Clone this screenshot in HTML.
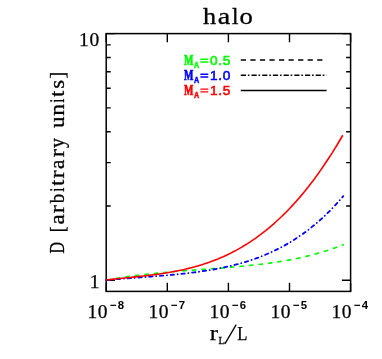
<!DOCTYPE html>
<html><head><meta charset="utf-8"><title>halo</title>
<style>
html,body{margin:0;padding:0;background:#fff;}
body{width:382px;height:359px;overflow:hidden;font-family:"Liberation Serif",serif;}
svg{display:block;}

</style></head>
<body>
<svg style="will-change:transform" width="382" height="359" viewBox="0 0 382 359">
<rect x="0" y="0" width="382" height="359" fill="#ffffff"/>
<rect x="106.2" y="33.6" width="244.4" height="257.8" fill="none" stroke="#000" stroke-width="1.5"/>
<path d="M106.2,291.4 v-8.7 M106.2,33.6 v8.7 M167.3,291.4 v-8.7 M167.3,33.6 v8.7 M228.4,291.4 v-8.7 M228.4,33.6 v8.7 M289.5,291.4 v-8.7 M289.5,33.6 v8.7 M350.6,291.4 v-8.7 M350.6,33.6 v8.7 M106.2,280.3 h8.7 M350.6,280.3 h-8.7 M106.2,33.6 h8.7 M350.6,33.6 h-8.7 M106.2,206.0 h4.5 M350.6,206.0 h-4.5 M106.2,162.6 h4.5 M350.6,162.6 h-4.5 M106.2,131.8 h4.5 M350.6,131.8 h-4.5 M106.2,107.9 h4.5 M350.6,107.9 h-4.5 M106.2,88.3 h4.5 M350.6,88.3 h-4.5 M106.2,71.8 h4.5 M350.6,71.8 h-4.5 M106.2,57.5 h4.5 M350.6,57.5 h-4.5 M106.2,44.9 h4.5 M350.6,44.9 h-4.5" fill="none" stroke="#000" stroke-width="1.4"/>
<path d="M106.2,280.00 L108.9,279.54 L111.5,279.09 L114.2,278.66 L116.9,278.24 L119.5,277.83 L122.2,277.44 L124.8,277.05 L127.5,276.68 L130.2,276.31 L132.8,275.96 L135.5,275.62 L138.2,275.29 L140.8,274.97 L143.5,274.65 L146.2,274.35 L148.8,274.05 L151.5,273.77 L154.2,273.49 L156.8,273.22 L159.5,272.96 L162.1,272.70 L164.8,272.45 L167.5,272.21 L170.1,271.98 L172.8,271.75 L175.5,271.52 L178.1,271.30 L180.8,271.08 L183.5,270.87 L186.1,270.66 L188.8,270.46 L191.4,270.25 L194.1,270.05 L196.8,269.86 L199.4,269.66 L202.1,269.46 L204.8,269.27 L207.4,269.07 L210.1,268.87 L212.8,268.67 L215.4,268.47 L218.1,268.27 L220.8,268.07 L223.4,267.86 L226.1,267.65 L228.7,267.43 L231.4,267.21 L234.1,266.98 L236.7,266.75 L239.4,266.51 L242.1,266.26 L244.7,266.00 L247.4,265.74 L250.1,265.47 L252.7,265.18 L255.4,264.89 L258.1,264.59 L260.7,264.27 L263.4,263.94 L266.0,263.60 L268.7,263.24 L271.4,262.87 L274.0,262.49 L276.7,262.09 L279.4,261.67 L282.0,261.23 L284.7,260.78 L287.4,260.31 L290.0,259.82 L292.7,259.31 L295.3,258.77 L298.0,258.22 L300.7,257.64 L303.3,257.04 L306.0,256.42 L308.7,255.77 L311.3,255.09 L314.0,254.39 L316.7,253.66 L319.3,252.90 L322.0,252.12 L324.7,251.30 L327.3,250.45 L330.0,249.58 L332.6,248.66 L335.3,247.72 L338.0,246.74 L340.6,245.73 L343.3,244.67" fill="none" stroke="#00ff00" stroke-width="1.7" stroke-linecap="round" stroke-dasharray="3.3 6.25" stroke-dashoffset="8.7"/>
<path d="M106.2,280.10 L108.9,279.87 L111.5,279.65 L114.2,279.43 L116.9,279.21 L119.5,279.00 L122.2,278.79 L124.8,278.58 L127.5,278.37 L130.2,278.17 L132.8,277.97 L135.5,277.77 L138.2,277.56 L140.8,277.36 L143.5,277.16 L146.2,276.96 L148.8,276.75 L151.5,276.55 L154.2,276.34 L156.8,276.13 L159.5,275.91 L162.1,275.69 L164.8,275.46 L167.5,275.23 L170.1,274.99 L172.8,274.74 L175.5,274.49 L178.1,274.22 L180.8,273.95 L183.5,273.67 L186.1,273.37 L188.8,273.06 L191.4,272.74 L194.1,272.41 L196.8,272.06 L199.4,271.70 L202.1,271.32 L204.8,270.92 L207.4,270.50 L210.1,270.06 L212.8,269.61 L215.4,269.13 L218.1,268.63 L220.8,268.10 L223.4,267.55 L226.1,266.98 L228.7,266.38 L231.4,265.75 L234.1,265.09 L236.7,264.40 L239.4,263.68 L242.1,262.93 L244.7,262.14 L247.4,261.32 L250.1,260.46 L252.7,259.56 L255.4,258.63 L258.1,257.65 L260.7,256.63 L263.4,255.57 L266.0,254.47 L268.7,253.32 L271.4,252.12 L274.0,250.87 L276.7,249.57 L279.4,248.23 L282.0,246.82 L284.7,245.37 L287.4,243.85 L290.0,242.28 L292.7,240.65 L295.3,238.96 L298.0,237.21 L300.7,235.39 L303.3,233.51 L306.0,231.56 L308.7,229.54 L311.3,227.45 L314.0,225.28 L316.7,223.05 L319.3,220.73 L322.0,218.34 L324.7,215.87 L327.3,213.32 L330.0,210.68 L332.6,207.96 L335.3,205.15 L338.0,202.25 L340.6,199.27 L343.3,196.19" fill="none" stroke="#0000ff" stroke-width="1.8" stroke-linecap="round" stroke-dasharray="3.4 3.6 0.1 3.68" stroke-dashoffset="0.05"/>
<path d="M106.2,280.01 L108.9,279.70 L111.5,279.40 L114.2,279.10 L116.8,278.82 L119.5,278.54 L122.2,278.26 L124.8,277.98 L127.5,277.71 L130.1,277.44 L132.8,277.16 L135.4,276.88 L138.1,276.59 L140.8,276.30 L143.4,276.00 L146.1,275.70 L148.7,275.38 L151.4,275.05 L154.1,274.70 L156.7,274.35 L159.4,273.97 L162.0,273.58 L164.7,273.17 L167.3,272.74 L170.0,272.29 L172.7,271.81 L175.3,271.31 L178.0,270.79 L180.6,270.24 L183.3,269.66 L186.0,269.05 L188.6,268.40 L191.3,267.73 L193.9,267.03 L196.6,266.28 L199.2,265.51 L201.9,264.69 L204.6,263.84 L207.2,262.94 L209.9,262.01 L212.5,261.03 L215.2,260.01 L217.9,258.94 L220.5,257.83 L223.2,256.66 L225.8,255.45 L228.5,254.19 L231.1,252.88 L233.8,251.51 L236.5,250.09 L239.1,248.62 L241.8,247.09 L244.4,245.50 L247.1,243.85 L249.8,242.14 L252.4,240.37 L255.1,238.54 L257.7,236.64 L260.4,234.68 L263.0,232.65 L265.7,230.55 L268.4,228.39 L271.0,226.15 L273.7,223.85 L276.3,221.47 L279.0,219.02 L281.7,216.49 L284.3,213.89 L287.0,211.21 L289.6,208.46 L292.3,205.62 L294.9,202.71 L297.6,199.71 L300.3,196.63 L302.9,193.47 L305.6,190.22 L308.2,186.89 L310.9,183.46 L313.6,179.96 L316.2,176.36 L318.9,172.67 L321.5,168.89 L324.2,165.01 L326.8,161.05 L329.5,156.99 L332.2,152.83 L334.8,148.58 L337.5,144.22 L340.1,139.77 L342.8,135.22" fill="none" stroke="#ff0000" stroke-width="1.6"/>
<path d="M240.8,60.05 H326.6" stroke="#000" stroke-width="1.5" stroke-dasharray="5.2 4.35" fill="none"/>
<path d="M240.8,75.3 H326.6" stroke="#000" stroke-width="1.5" stroke-dasharray="5.2 1.85 1.6 2.05" fill="none"/>
<path d="M240.8,90.4 H326.6" stroke="#000" stroke-width="1.5" fill="none"/>
<text x="184.0" y="64.6" fill="#00ff00" stroke="#00ff00" stroke-width="0.7" font-family="Liberation Serif" font-weight="bold" font-size="15.2" textLength="9.4" lengthAdjust="spacingAndGlyphs">M</text>
<text x="194.0" y="67.9" fill="#00ff00" stroke="#00ff00" stroke-width="0.55" font-family="Liberation Sans" font-weight="bold" font-size="9.3" textLength="5.2" lengthAdjust="spacingAndGlyphs">A</text>
<path d="M200.4,59.25 h7.9 M200.4,62.00 h7.9" stroke="#00ff00" stroke-width="1.4" fill="none"/>
<text x="210.0" y="64.6" fill="#00ff00" stroke="#00ff00" stroke-width="0.55" font-family="Liberation Sans" font-size="13.7" letter-spacing="0.65">0.5</text>
<text x="184.0" y="79.5" fill="#0000ff" stroke="#0000ff" stroke-width="0.7" font-family="Liberation Serif" font-weight="bold" font-size="15.2" textLength="9.4" lengthAdjust="spacingAndGlyphs">M</text>
<text x="194.0" y="82.8" fill="#0000ff" stroke="#0000ff" stroke-width="0.55" font-family="Liberation Sans" font-weight="bold" font-size="9.3" textLength="5.2" lengthAdjust="spacingAndGlyphs">A</text>
<path d="M200.4,74.20 h7.9 M200.4,76.95 h7.9" stroke="#0000ff" stroke-width="1.4" fill="none"/>
<text x="210.0" y="79.5" fill="#0000ff" stroke="#0000ff" stroke-width="0.55" font-family="Liberation Sans" font-size="13.7" letter-spacing="0.65">1.0</text>
<text x="184.0" y="94.5" fill="#ff0000" stroke="#ff0000" stroke-width="0.7" font-family="Liberation Serif" font-weight="bold" font-size="15.2" textLength="9.4" lengthAdjust="spacingAndGlyphs">M</text>
<text x="194.0" y="97.8" fill="#ff0000" stroke="#ff0000" stroke-width="0.55" font-family="Liberation Sans" font-weight="bold" font-size="9.3" textLength="5.2" lengthAdjust="spacingAndGlyphs">A</text>
<path d="M200.4,89.15 h7.9 M200.4,91.90 h7.9" stroke="#ff0000" stroke-width="1.4" fill="none"/>
<text x="210.0" y="94.5" fill="#ff0000" stroke="#ff0000" stroke-width="0.55" font-family="Liberation Sans" font-size="13.7" letter-spacing="0.65">1.5</text>
<text transform="translate(203.35,23.9) scale(1.180,1)" x="-0.22" y="0" font-family="Liberation Serif" font-size="22.2" stroke="#000" stroke-width="0.3">h</text>
<text transform="translate(218.75,23.9) scale(1.266,1)" x="-0.78" y="0" font-family="Liberation Serif" font-size="22.2" stroke="#000" stroke-width="0.3">a</text>
<text transform="translate(232.45,23.9) scale(1.042,1)" x="-0.44" y="0" font-family="Liberation Serif" font-size="22.2" stroke="#000" stroke-width="0.3">l</text>
<text transform="translate(240.55,23.9) scale(1.201,1)" x="-0.85" y="0" font-family="Liberation Serif" font-size="22.2" stroke="#000" stroke-width="0.3">o</text>
<text x="87.4" y="317.5" font-family="Liberation Serif" font-size="19.5" letter-spacing="0.55" stroke="#000" stroke-width="0.25">10</text>
<text x="110.1" y="309.1" font-family="Liberation Sans" font-weight="bold" font-size="11.4" letter-spacing="0.9">−8</text>
<text x="148.4" y="317.5" font-family="Liberation Serif" font-size="19.5" letter-spacing="0.55" stroke="#000" stroke-width="0.25">10</text>
<text x="171.1" y="309.1" font-family="Liberation Sans" font-weight="bold" font-size="11.4" letter-spacing="0.9">−7</text>
<text x="209.4" y="317.5" font-family="Liberation Serif" font-size="19.5" letter-spacing="0.55" stroke="#000" stroke-width="0.25">10</text>
<text x="232.1" y="309.1" font-family="Liberation Sans" font-weight="bold" font-size="11.4" letter-spacing="0.9">−6</text>
<text x="270.4" y="317.5" font-family="Liberation Serif" font-size="19.5" letter-spacing="0.55" stroke="#000" stroke-width="0.25">10</text>
<text x="293.1" y="309.1" font-family="Liberation Sans" font-weight="bold" font-size="11.4" letter-spacing="0.9">−5</text>
<text x="331.4" y="317.5" font-family="Liberation Serif" font-size="19.5" letter-spacing="0.55" stroke="#000" stroke-width="0.25">10</text>
<text x="354.1" y="309.1" font-family="Liberation Sans" font-weight="bold" font-size="11.4" letter-spacing="0.9">−4</text>
<text x="78.9" y="45.9" font-family="Liberation Serif" font-size="19.5" letter-spacing="0.8" stroke="#000" stroke-width="0.25">10</text>
<text x="89.8" y="287.8" font-family="Liberation Serif" font-size="19.5" stroke="#000" stroke-width="0.25">1</text>
<text x="209.7" y="339.6" font-family="Liberation Serif" font-size="20.3" textLength="8.3" lengthAdjust="spacingAndGlyphs" stroke="#000" stroke-width="0.25">r</text>
<text x="218.5" y="343.6" font-family="Liberation Serif" font-size="11" textLength="6.4" lengthAdjust="spacingAndGlyphs" stroke="#000" stroke-width="0.3">L</text>
<path d="M224.9,343.9 L236.2,324.6" stroke="#000" stroke-width="1.3" fill="none"/>
<text x="237.2" y="339.6" font-family="Liberation Serif" font-size="19.6" textLength="10.2" lengthAdjust="spacingAndGlyphs" stroke="#000" stroke-width="0.25">L</text>
<text transform="translate(63.8,253.15) rotate(-90) scale(0.777,1)" x="-0.59" y="0" font-family="Liberation Serif" font-size="20.5" stroke="#000" stroke-width="0.3">D</text>
<text transform="translate(63.8,230.95) rotate(-90) scale(0.854,1)" x="-1.52" y="0" font-family="Liberation Serif" font-size="20.5" stroke="#000" stroke-width="0.3">[</text>
<text transform="translate(63.8,223.65) rotate(-90) scale(1.124,1)" x="-0.72" y="0" font-family="Liberation Serif" font-size="20.5" stroke="#000" stroke-width="0.3">a</text>
<text transform="translate(63.8,212.75) rotate(-90) scale(1.187,1)" x="-0.41" y="0" font-family="Liberation Serif" font-size="20.5" stroke="#000" stroke-width="0.3">r</text>
<text transform="translate(63.8,203.15) rotate(-90) scale(0.919,1)" x="-0.00" y="0" font-family="Liberation Serif" font-size="20.5" stroke="#000" stroke-width="0.3">b</text>
<text transform="translate(63.8,191.55) rotate(-90) scale(0.720,1)" x="-0.43" y="0" font-family="Liberation Serif" font-size="20.5" stroke="#000" stroke-width="0.3">i</text>
<text transform="translate(63.8,185.55) rotate(-90) scale(1.060,1)" x="-0.20" y="0" font-family="Liberation Serif" font-size="20.5" stroke="#000" stroke-width="0.3">t</text>
<text transform="translate(63.8,178.15) rotate(-90) scale(1.187,1)" x="-0.41" y="0" font-family="Liberation Serif" font-size="20.5" stroke="#000" stroke-width="0.3">r</text>
<text transform="translate(63.8,168.15) rotate(-90) scale(1.025,1)" x="-0.72" y="0" font-family="Liberation Serif" font-size="20.5" stroke="#000" stroke-width="0.3">a</text>
<text transform="translate(63.8,156.85) rotate(-90) scale(1.203,1)" x="-0.41" y="0" font-family="Liberation Serif" font-size="20.5" stroke="#000" stroke-width="0.3">r</text>
<text transform="translate(63.8,147.65) rotate(-90) scale(0.968,1)" x="-0.25" y="0" font-family="Liberation Serif" font-size="20.5" stroke="#000" stroke-width="0.3">y</text>
<text transform="translate(63.8,127.75) rotate(-90) scale(1.122,1)" x="-0.27" y="0" font-family="Liberation Serif" font-size="20.5" stroke="#000" stroke-width="0.3">u</text>
<text transform="translate(63.8,115.25) rotate(-90) scale(1.141,1)" x="-0.47" y="0" font-family="Liberation Serif" font-size="20.5" stroke="#000" stroke-width="0.3">n</text>
<text transform="translate(63.8,102.40) rotate(-90) scale(0.720,1)" x="-0.43" y="0" font-family="Liberation Serif" font-size="20.5" stroke="#000" stroke-width="0.3">i</text>
<text transform="translate(63.8,96.45) rotate(-90) scale(1.060,1)" x="-0.20" y="0" font-family="Liberation Serif" font-size="20.5" stroke="#000" stroke-width="0.3">t</text>
<text transform="translate(63.8,87.75) rotate(-90) scale(1.110,1)" x="-0.84" y="0" font-family="Liberation Serif" font-size="20.5" stroke="#000" stroke-width="0.3">s</text>
<text transform="translate(63.8,77.65) rotate(-90) scale(0.986,1)" x="-0.74" y="0" font-family="Liberation Serif" font-size="20.5" stroke="#000" stroke-width="0.3">]</text>
</svg>
</body></html>
